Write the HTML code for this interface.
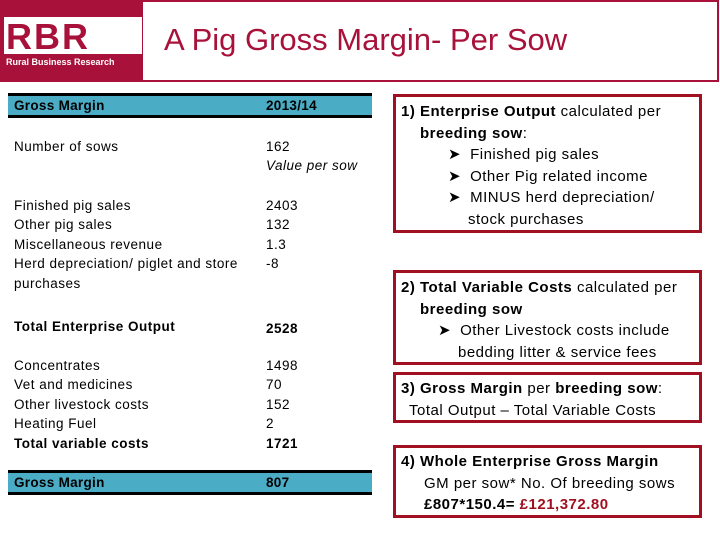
<!DOCTYPE html>
<html><head><meta charset="utf-8"><style>
*{margin:0;padding:0;box-sizing:border-box}
body{width:720px;height:540px;background:#fff;position:relative;overflow:hidden;font-family:"Liberation Sans",sans-serif;color:#000}
.a{position:absolute;white-space:nowrap}
.t{font-size:13.5px;line-height:19.4px;letter-spacing:0.5px}
.box{position:absolute;border:3px solid #a01020;font-size:15px;line-height:21.6px;padding:4px 0 0 5px;letter-spacing:0.5px}
.bar{position:absolute;left:8px;width:364px;height:25px;background:#4bacc6;border-top:3px solid #000;border-bottom:3px solid #000;font-size:13.5px;font-weight:bold;line-height:19px;letter-spacing:0.3px}
b{font-weight:bold}
.ind{display:inline-block}
</style></head><body>
<div class="a" style="left:0;top:0;width:143px;height:82px;background:#a8123a"></div>
<div class="a" style="left:4px;top:17px;width:138px;height:37px;background:#fff"></div>
<div class="a" style="left:6px;top:17px;font-size:36px;font-weight:bold;color:#a8123a;line-height:40px;letter-spacing:2px">RBR</div>
<div class="a" style="left:6px;top:57px;font-size:9px;font-weight:bold;color:#fff">Rural Business Research</div>
<div class="a" style="left:143px;top:0;width:576px;height:82px;border:2px solid #a8123a;border-left:none"></div>
<div class="a" style="left:164px;top:21px;font-size:31px;color:#a8123a;line-height:38px">A Pig Gross Margin- Per Sow</div>

<div class="bar" style="top:93px"><span class="a" style="left:6px">Gross Margin</span><span class="a" style="left:258px">2013/14</span></div>

<div class="a t" style="left:14px;top:137px">Number of sows</div>
<div class="a t" style="left:266px;top:137px">162<br><i>Value per sow</i></div>

<div class="a t" style="left:14px;top:196px">Finished pig sales<br>Other pig sales<br>Miscellaneous revenue<br>Herd depreciation/ piglet and store<br>purchases</div>
<div class="a t" style="left:266px;top:196px">2403<br>132<br>1.3<br>-8</div>

<div class="a t" style="left:14px;top:317px;font-weight:bold">Total Enterprise Output</div>
<div class="a t" style="left:266px;top:319px;font-weight:bold">2528</div>

<div class="a t" style="left:14px;top:356px">Concentrates<br>Vet and medicines<br>Other livestock costs<br>Heating Fuel<br><b>Total variable costs</b></div>
<div class="a t" style="left:266px;top:356px">1498<br>70<br>152<br>2<br><b>1721</b></div>

<div class="bar" style="top:470px"><span class="a" style="left:6px">Gross Margin</span><span class="a" style="left:258px">807</span></div>

<div class="box" style="left:393px;top:94px;width:309px;height:139px"><b>1) Enterprise Output</b> calculated per<br><span class="ind" style="width:19px"></span><b>breeding sow</b>:<br><span class="ind" style="width:47px"></span>&#10148;<span class="ind" style="width:9px"></span>Finished pig sales<br><span class="ind" style="width:47px"></span>&#10148;<span class="ind" style="width:9px"></span>Other Pig related income<br><span class="ind" style="width:47px"></span>&#10148;<span class="ind" style="width:9px"></span>MINUS herd depreciation/<br><span class="ind" style="width:67px"></span>stock purchases</div>

<div class="box" style="left:393px;top:270px;width:309px;height:95px"><b>2) Total Variable Costs</b> calculated per<br><span class="ind" style="width:19px"></span><b>breeding sow</b><br><span class="ind" style="width:37px"></span>&#10148;<span class="ind" style="width:9px"></span>Other Livestock costs include<br><span class="ind" style="width:57px"></span>bedding litter &amp; service fees</div>

<div class="box" style="left:393px;top:372px;width:309px;height:51px;padding-top:3px"><b>3) Gross Margin</b> per <b>breeding sow</b>:<br><span class="ind" style="width:8px"></span>Total Output – Total Variable Costs</div>

<div class="box" style="left:393px;top:445px;width:309px;height:73px;padding-top:3px"><b>4) Whole Enterprise Gross Margin</b><br><span class="ind" style="width:23px"></span>GM per sow* No. Of breeding sows<br><span class="ind" style="width:23px"></span><b>£807*150.4= <span style="color:#a01020">£121,372.80</span></b></div>
</body></html>
